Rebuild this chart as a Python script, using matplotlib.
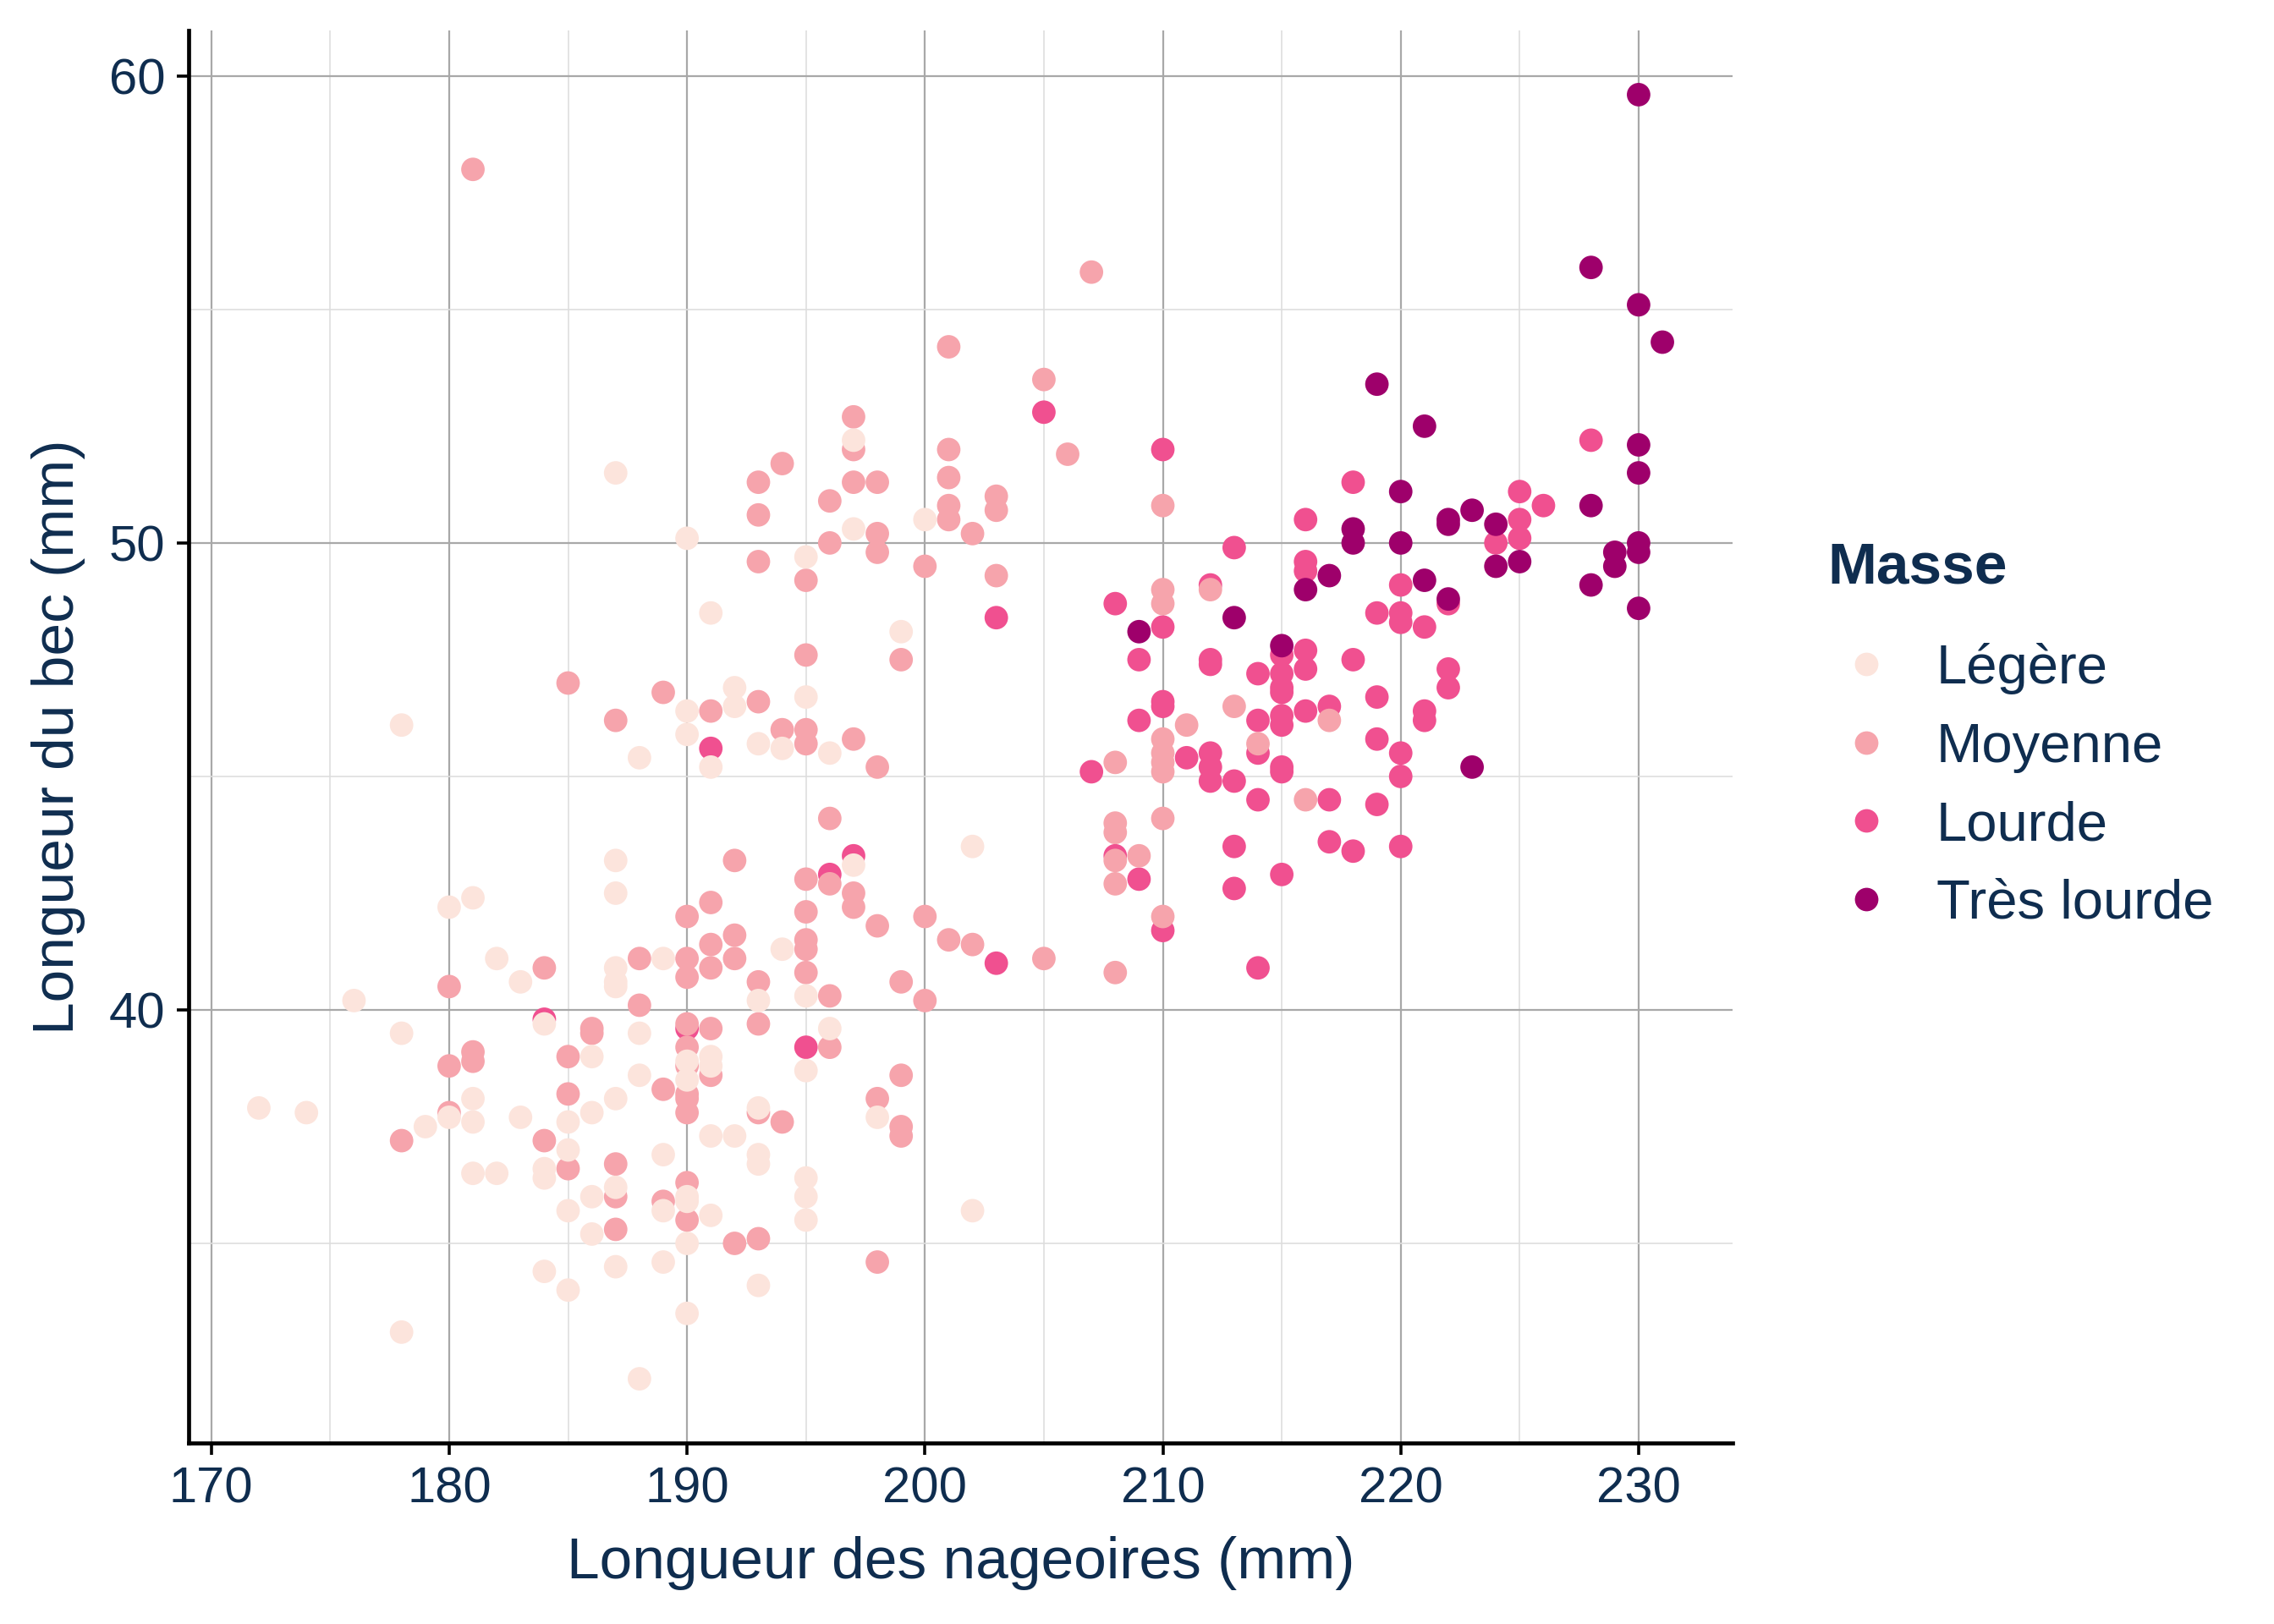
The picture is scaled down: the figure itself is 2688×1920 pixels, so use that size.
import matplotlib
matplotlib.use("Agg")
import matplotlib.pyplot as plt
from matplotlib.lines import Line2D
from matplotlib.ticker import MultipleLocator

# ---------------- data ----------------
categories = ["Légère", "Moyenne", "Lourde", "Très lourde"]
colors = ["#FCE4DC", "#F6A4AC", "#F05090", "#9E006B"]

legere_x = [180, 181, 182, 183, 176, 187, 187, 187, 187, 187, 189, 184, 178, 188, 186, 190, 191, 191,
            188, 190, 172, 174, 179, 180, 181, 181, 183, 185, 186, 187, 185, 184, 184, 181, 182, 187,
            186, 185, 186, 189, 189, 190, 190, 191, 191, 190, 184, 185, 187, 189, 190, 178, 188,
            194, 193, 195, 196, 195, 198, 193, 192, 193, 193, 195, 195, 195, 202, 193,
            187, 190, 191, 178, 190, 192, 192, 190, 191, 188,
            197, 197, 195, 200, 199, 195, 194, 193, 196, 197, 202]
legere_y = [42.2, 42.4, 41.1, 40.6, 40.2, 42.5, 43.2, 40.9, 40.6, 40.5, 41.1, 39.7, 39.5, 39.5, 39.0, 38.9, 39.0, 38.8,
            38.6, 38.5, 37.9, 37.8, 37.5, 37.7, 38.1, 37.6, 37.7, 37.6, 37.8, 38.1, 37.0, 36.6, 36.4, 36.5, 36.5, 36.2,
            36.0, 35.7, 35.2, 36.9, 35.7, 36.0, 35.9, 37.3, 35.6, 35.0, 34.4, 34.0, 34.5, 34.6, 33.5, 33.1, 32.1,
            41.3, 40.2, 40.3, 39.6, 38.7, 37.7, 37.9, 37.3, 36.9, 36.7, 36.4, 36.0, 35.5, 35.7, 34.1,
            51.5, 50.1, 48.5, 46.1, 46.4, 46.9, 46.5, 45.9, 45.2, 45.4,
            52.2, 50.3, 49.7, 50.5, 48.1, 46.7, 45.6, 45.7, 45.5, 43.1, 43.5]

moyenne_x = [184, 180, 188, 190, 190, 190, 191, 191, 191, 188, 186, 186, 190, 191, 181, 181, 180, 185,
             190, 190, 191, 189, 190, 190, 190, 178, 180, 185, 184, 185, 187, 187, 187, 189, 190, 190,
             195, 197, 197, 198, 200, 192, 192, 195, 195, 195, 193, 196, 201, 202, 205, 199, 200, 193,
             196, 199, 198, 199, 199, 193, 194, 192, 193, 198,
             185, 187, 189, 191, 192,
             201, 205, 206, 194, 193, 193, 197, 197, 197, 198, 196, 198, 198, 196, 195, 193, 201, 201,
             201, 201, 202, 203, 203, 200, 203, 199, 195, 193, 194, 195, 195, 197, 198, 208, 196, 196,
             195, 208, 208, 208, 208,
             210, 212, 210, 210, 213, 211, 217, 210, 210, 210, 210, 214, 216, 210, 209, 210, 208,
             181, 207]
moyenne_y = [40.9, 40.5, 41.1, 42.0, 41.1, 40.7, 42.3, 41.4, 40.9, 40.1, 39.6, 39.5, 39.7, 39.6, 39.1, 38.9, 38.8, 39.0,
             39.2, 38.8, 38.6, 38.3, 38.2, 38.1, 37.8, 37.2, 37.8, 38.2, 37.2, 36.6, 36.7, 36.0, 35.3, 35.9, 36.3, 35.5,
             42.1, 42.5, 42.2, 41.8, 42.0, 41.6, 41.1, 41.5, 41.3, 40.8, 40.6, 40.3, 41.5, 41.4, 41.1, 40.6, 40.2, 39.7,
             39.2, 38.6, 38.1, 37.5, 37.3, 37.8, 37.6, 35.0, 35.1, 34.6,
             47.0, 46.2, 46.8, 46.4, 43.2,
             54.2, 53.5, 51.9, 51.7, 51.3, 50.6, 52.7, 52.0, 51.3, 51.3, 50.9, 50.2, 49.8, 50.0, 49.2, 49.6, 52.0, 51.4,
             50.8, 50.5, 50.2, 51.0, 50.7, 49.5, 49.3, 47.5, 47.6, 46.6, 46.0, 46.0, 45.7, 45.8, 45.2, 45.3, 44.1, 42.7,
             42.8, 44.0, 43.8, 43.2, 42.7,
             50.8, 49.0, 49.0, 48.7, 46.5, 46.1, 46.2, 45.8, 45.5, 45.3, 45.1, 45.7, 44.5, 44.1, 43.3, 42.0, 40.8,
             58.0, 55.8]

lourde_x = [184, 190, 203, 195, 191, 205, 203, 208, 207, 196, 197, 208,
            210, 218, 216, 213, 216, 216, 220, 212, 210, 219, 220, 220, 221, 215, 216, 216, 218, 209,
            212, 212, 214, 215, 215, 215, 210, 210, 219, 221, 221, 209, 214, 215, 215, 216, 217, 219,
            211, 212, 212, 212, 214, 215, 215, 220, 220, 213, 214, 217, 219, 209, 213, 213, 217, 218,
            220, 215, 210, 214,
            228, 225, 226, 225, 225, 224, 222, 222, 222]
lourde_y = [39.8, 39.6, 41.0, 39.2, 45.6, 52.8, 48.4, 48.7, 45.1, 42.9, 43.3, 43.3,
            52.0, 51.3, 50.5, 49.9, 49.6, 49.4, 49.1, 49.1, 48.2, 48.5, 48.5, 48.3, 48.2, 47.6, 47.7, 47.3, 47.5, 47.5,
            47.5, 47.4, 47.2, 47.2, 46.9, 46.8, 46.6, 46.5, 46.7, 46.4, 46.2, 46.2, 46.2, 46.3, 46.1, 46.4, 46.5, 45.8,
            45.4, 45.5, 45.2, 44.9, 45.5, 45.2, 45.1, 45.5, 45.0, 44.9, 44.5, 44.5, 44.4, 42.8, 43.5, 42.6, 43.6, 43.4,
            43.5, 42.9, 41.7, 40.9,
            52.2, 51.1, 50.8, 50.5, 50.1, 50.0, 48.7, 47.3, 46.9]

tres_x = [230, 228, 230, 231, 219, 221, 230, 230, 220, 218, 218, 220, 216, 217, 221, 209, 213, 215,
          228, 222, 222, 223, 224, 224, 225, 229, 229, 230, 230, 228, 230, 222, 223]
tres_y = [59.6, 55.9, 55.1, 54.3, 53.4, 52.5, 52.1, 51.5, 51.1, 50.3, 50.0, 50.0, 49.0, 49.3, 49.2, 48.1, 48.4, 47.8,
          50.8, 50.5, 50.4, 50.7, 50.4, 49.5, 49.6, 49.8, 49.5, 50.0, 49.8, 49.1, 48.6, 48.8, 45.2]

x_label = "Longueur des nageoires (mm)"
y_label = "Longueur du bec (mm)"
legend_title = "Masse"

# ---------------- style ----------------
TXT = "#0F2D4F"
plt.rcParams["font.family"] = ["Liberation Sans", "DejaVu Sans"]
W, H = 2688, 1920

fig = plt.figure(figsize=(13.44, 9.6), dpi=200)
ax = fig.add_axes([223 / W, 1 - 1706 / H, (2048 - 223) / W, (1706 - 36) / H])

series = {
    "Légère": (legere_x, legere_y),
    "Moyenne": (moyenne_x, moyenne_y),
    "Lourde": (lourde_x, lourde_y),
    "Très lourde": (tres_x, tres_y),
}
S = 100
draw_order = ["Lourde", "Très lourde", "Moyenne", "Légère"]
for z, lab in enumerate(draw_order):
    xs, ys = series[lab]
    ax.scatter(xs, ys, s=S, c=colors[categories.index(lab)], edgecolors="none",
               label=lab, zorder=3 + z)

ax.set_xlim(169.05, 233.95)
ax.set_ylim(30.725, 60.975)
ax.xaxis.set_major_locator(MultipleLocator(10))
ax.xaxis.set_minor_locator(MultipleLocator(5))
ax.yaxis.set_major_locator(MultipleLocator(10))
ax.yaxis.set_minor_locator(MultipleLocator(5))
ax.grid(which="major", color="#A8A8A8", linewidth=0.8, zorder=0)
ax.grid(which="minor", color="#DEDEDE", linewidth=0.6, zorder=0)
ax.set_axisbelow(True)

for s in ["top", "right"]:
    ax.spines[s].set_visible(False)
for s in ["left", "bottom"]:
    ax.spines[s].set_color("black")
    ax.spines[s].set_linewidth(1.7)

ax.tick_params(which="major", length=5, width=1.3, color="black", labelsize=21.5,
               labelcolor=TXT, pad=5)
ax.tick_params(which="minor", length=0)

ax.set_xlabel(x_label, fontsize=25, color=TXT)
ax.set_ylabel(y_label, fontsize=25, color=TXT)
ax.xaxis.label.set_va("center")
ax.yaxis.label.set_va("center")
ax.xaxis.set_label_coords(0.5, (1706 - 1848) / 1670)
ax.yaxis.set_label_coords((69 - 223) / 1825, 0.5)

# legend title
fig.text(2160 / W, 1 - 672 / H, legend_title, fontsize=25, fontweight="bold",
         color=TXT, ha="left", va="center")

FS = 23.5
handles = [Line2D([0], [0], marker="o", linestyle="none", markersize=S ** 0.5,
                  markerfacecolor=c, markeredgecolor="none") for c in colors]
hl = 1.0
left_px = 2206 - hl * FS * 200 / 72 / 2
leg = fig.legend(handles, categories, loc="upper left",
                 bbox_to_anchor=(left_px / W, 1 - 760 / H),
                 frameon=False, fontsize=FS, borderpad=0,
                 handlelength=hl, handletextpad=0.77,
                 labelspacing=0.5, borderaxespad=0)
for t in leg.get_texts():
    t.set_color(TXT)

fig.savefig("out.png", dpi=200)
